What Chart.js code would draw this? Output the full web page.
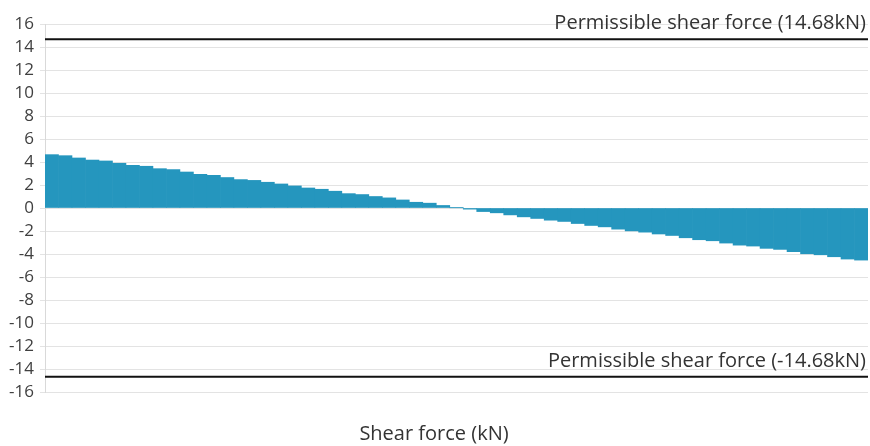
<!DOCTYPE html>
<html>
<head>
<meta charset="utf-8">
<script src="https://cdn.jsdelivr.net/npm/chart.js@4/dist/chart.umd.min.js"></script>
<style>
  html, body { margin: 0; padding: 0; background: #ffffff; }
  #wrap { width: 870px; height: 446px; position: relative; }
</style>
</head>
<body>
<div id="wrap"><canvas id="c"></canvas></div>
<script>
// ---- Data ----
const positions = Array.from({length: 61}, (_, i) => String(i + 1));
const shearValues = [
  4.64, 4.55, 4.35, 4.17, 4.09, 3.89, 3.71, 3.63, 3.42, 3.34,
  3.13, 2.93, 2.84, 2.65, 2.47, 2.40, 2.24, 2.09, 1.92, 1.74,
  1.63, 1.46, 1.25, 1.17, 1.00, 0.88, 0.70, 0.50, 0.42, 0.22,
  0.02, -0.10, -0.31, -0.42, -0.60, -0.77, -0.91, -1.06, -1.17, -1.35,
  -1.52, -1.64, -1.84, -1.99, -2.10, -2.26, -2.39, -2.59, -2.76, -2.85,
  -3.05, -3.23, -3.31, -3.51, -3.60, -3.80, -3.98, -4.07, -4.24, -4.44,
  -4.53
];
const limitValues = [14.68, -14.68];
const limitLabels = ['Permissible shear force (14.68kN)', 'Permissible shear force (-14.68kN)'];
const yTickMin = -16;
const yTickMax = 16;
const yTickStep = 2;
const axisTitle = 'Shear force (kN)';

// ---- Limit lines plugin (drawn through the y scale) ----
const limitLinesPlugin = {
  id: 'limitLines',
  afterDatasetsDraw(chart) {
    const { ctx, chartArea, scales } = chart;
    const y = scales.y;
    ctx.save();
    limitValues.forEach((v, i) => {
      const py = y.getPixelForValue(v);
      ctx.beginPath();
      ctx.strokeStyle = '#111111';
      ctx.lineWidth = 2;
      ctx.moveTo(chartArea.left, py);
      ctx.lineTo(chartArea.right, py);
      ctx.stroke();
      ctx.fillStyle = '#333333';
      ctx.font = '20px "Open Sans"';
      ctx.textAlign = 'right';
      ctx.textBaseline = 'alphabetic';
      ctx.fillText(limitLabels[i], chartArea.right - 2, py - 10);
    });
    ctx.restore();
  }
};

new Chart(document.getElementById('c'), {
  type: 'bar',
  data: {
    labels: positions,
    datasets: [{
      label: axisTitle,
      data: shearValues,
      backgroundColor: '#2596be',
      borderWidth: 0,
      barPercentage: 1.0,
      categoryPercentage: 1.0
    }]
  },
  options: {
    responsive: true,
    maintainAspectRatio: false,
    animation: false,
    layout: { padding: { top: 24, right: 2, left: 0, bottom: 0 } },
    plugins: {
      legend: { display: false },
      tooltip: { enabled: false },
      title: {
        display: true,
        position: 'bottom',
        text: axisTitle,
        color: '#333333',
        font: { family: 'Open Sans', size: 20, weight: 'normal' },
        padding: { top: 30, bottom: 0 }
      }
    },
    scales: {
      x: {
        display: false
      },
      y: {
        min: yTickMin,
        max: yTickMax,
        afterFit(scale) { scale.width = 45; },
        ticks: {
          stepSize: yTickStep,
          autoSkip: false,
          color: '#404040',
          padding: 6,
          font: { family: 'Open Sans', size: 17 }
        },
        grid: {
          color: '#e3e3e3',
          lineWidth: 1,
          tickLength: 5,
          drawTicks: true
        },
        border: { display: true, color: '#d9d9d9', width: 1 }
      }
    }
  },
  plugins: [limitLinesPlugin]
});
</script>
</body>
</html>
